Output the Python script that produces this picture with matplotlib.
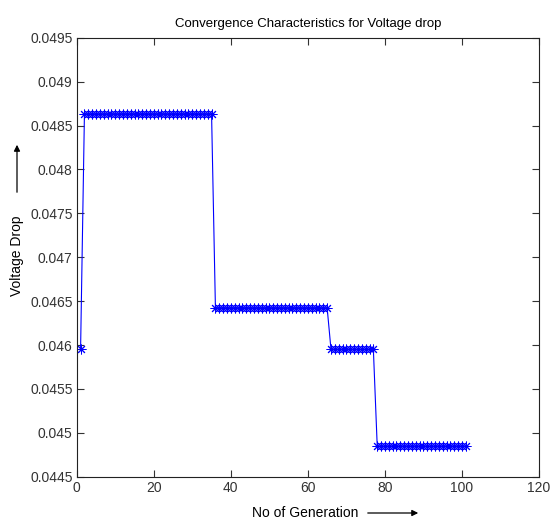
import matplotlib
matplotlib.use('Agg')
import numpy as np
import matplotlib.pyplot as plt

plt.rcParams['font.family'] = ['Liberation Sans', 'DejaVu Sans']

# step levels of the best voltage drop per generation
levels = [0.04595, 0.048633, 0.046424, 0.04595, 0.044848]
# last generation of each level
level_end = [1, 35, 65, 77, 101]

generation = np.arange(1, 102)
drop = []
for g in generation:
    for lv, e in zip(levels, level_end):
        if g <= e:
            drop.append(lv)
            break

fig = plt.figure(figsize=(5.52, 5.21), dpi=100)
ax = fig.add_axes([0.139, 0.085, 0.8375, 0.8425])

# matlab style asterisk (plus + cross)
ax.plot(generation, drop, color='blue', marker=(8, 2, 0), markersize=7, linewidth=0.8,
        markeredgewidth=0.7)

ax.set_xlim(0, 120)
ax.set_ylim(0.0445, 0.0495)
ax.set_xticks(np.arange(0, 121, 20))
ax.set_yticks(np.arange(0.0445, 0.04951, 0.0005))
ax.set_yticklabels(['0.0445', '0.045', '0.0455', '0.046', '0.0465', '0.047',
                    '0.0475', '0.048', '0.0485', '0.049', '0.0495'])
ax.tick_params(direction='in', top=True, right=True, length=5, width=0.8,
               labelsize=10, colors='#333333', pad=3)
for s in ax.spines.values():
    s.set_linewidth(0.8)
    s.set_color('#222222')

ax.set_title('Convergence Characteristics for Voltage drop', fontsize=9.5, pad=8)

# axis labels with arrows, placed like the original
fig.text(305 / 552, 1 - 513 / 521, 'No of Generation', ha='center', va='center', fontsize=10)
fig.add_artist(matplotlib.patches.FancyArrowPatch(
    (365 / 552, 1 - 513 / 521), (421 / 552, 1 - 513 / 521), transform=fig.transFigure,
    arrowstyle='-|>', mutation_scale=9, linewidth=0.9, color='black'))

fig.text(17 / 552, 1 - 256 / 521, 'Voltage Drop', ha='center', va='center', fontsize=10,
         rotation=90)
fig.add_artist(matplotlib.patches.FancyArrowPatch(
    (17 / 552, 1 - 195 / 521), (17 / 552, 1 - 142 / 521), transform=fig.transFigure,
    arrowstyle='-|>', mutation_scale=9, linewidth=0.9, color='black'))

fig.savefig('out.png', dpi=100)
